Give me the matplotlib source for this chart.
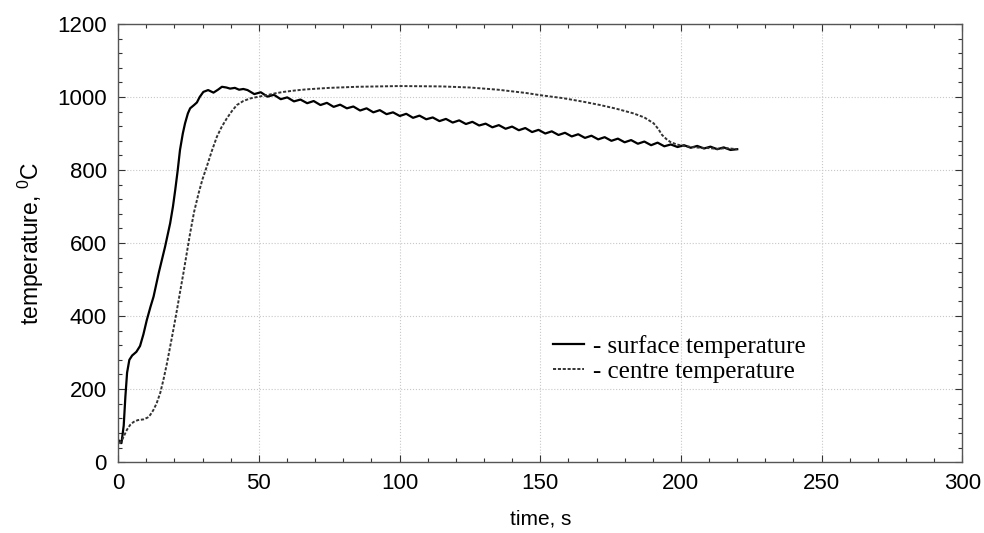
import numpy as np
import matplotlib.pyplot as plt
from matplotlib.ticker import MultipleLocator

plt.rcParams['mathtext.fontset'] = 'custom'
plt.rcParams['mathtext.rm'] = 'Liberation Sans'
plt.rcParams['mathtext.it'] = 'Liberation Sans'

# surface temperature (solid)
surf_t = [0.5, 1.2, 2.0, 2.6, 3.2, 4.0, 5.0, 6.5, 7.8, 9.0, 10.2, 11.5, 12.6, 14.5,
          16.7, 18.5, 19.5, 20.3, 21.2, 22.0, 23.0, 23.8, 24.8, 25.6, 27.0, 28.0,
          29.0, 30.3, 32.0, 33.9, 35.5, 36.9, 38.5, 39.8, 41.5, 43.0, 44.5,
          46.0, 48.4, 50.7, 53.1, 55.4, 57.8, 60.1, 62.5, 64.8, 67.2, 69.5, 71.9,
          74.2, 76.6, 78.9, 81.3, 83.6, 86.0, 88.3, 90.7, 93.0, 95.4, 97.7, 100.1,
          102.4, 104.8, 107.1, 109.5, 111.8, 114.2, 116.5, 118.9, 121.2, 123.6,
          125.9, 128.3, 130.6, 133.0, 135.3, 137.7, 140.0, 142.4, 144.7, 147.1,
          149.4, 151.8, 154.1, 156.5, 158.8, 161.2, 163.5, 165.9, 168.2, 170.6,
          172.9, 175.3, 177.6, 180.0, 182.3, 184.7, 187.0, 189.4, 191.7, 194.1,
          196.4, 198.8, 201.1, 203.5, 205.8, 208.2, 210.5, 212.9, 215.2, 217.6, 220.0]
surf_T = [58, 52, 100, 180, 245, 280, 292, 302, 318, 350, 389, 425, 453, 520,
          590, 654, 700, 745, 800, 855, 900, 928, 955, 969, 978, 985,
          1000, 1014, 1019, 1012, 1020, 1028, 1026, 1023, 1025, 1020, 1022,
          1019, 1008, 1013, 1001, 1006, 994, 999, 988, 993, 983, 989, 978,
          984, 973, 979, 969, 974, 963, 969, 958, 964, 953, 958, 948,
          954, 943, 949, 939, 944, 934, 940, 930, 936, 926,
          932, 922, 927, 917, 923, 913, 919, 909, 915, 904,
          910, 900, 906, 896, 902, 892, 898, 888, 894, 884,
          890, 880, 886, 876, 882, 872, 878, 868, 875, 865,
          870, 863, 868, 861, 866, 859, 864, 857, 862, 855, 857]

# centre temperature (dotted)
cent_t = [0.5, 1.5, 3.1, 4.3, 5.5, 7.0, 9.0, 10.5, 11.4, 12.5, 13.7, 15.0, 16.1,
          17.3, 18.5, 19.7, 20.9, 22.0, 23.2, 24.4, 25.6, 27.0, 28.6, 30.0, 31.5,
          33.3, 35.1, 36.8, 38.6, 40.4, 42.2, 44.5, 46.9, 50.0, 52.9, 55.8, 58.8,
          63.0, 67.0, 75.0, 85.0, 100.0, 115.0, 125.0, 135.0, 145.0, 150.0, 158.0,
          165.4, 171.3, 177.0, 183.2, 187.0, 190.3, 192.0, 193.3, 194.8, 196.2,
          198.5, 200.9, 203.8, 206.8, 210.0, 213.0, 216.0, 220.0]
cent_T = [50, 62, 88, 102, 110, 115, 117, 122, 129, 142, 161, 190, 225,
          268, 316, 365, 416, 465, 517, 572, 627, 685, 736, 775, 809,
          852, 891, 918, 941, 961, 978, 989, 996, 1001, 1005, 1010, 1014,
          1018, 1021, 1025, 1028, 1030, 1029, 1026, 1020, 1011, 1005, 997,
          987, 978, 968, 955, 944, 928, 912, 896, 885, 877,
          870, 866, 863, 861, 860, 858, 860, 857]

fig = plt.figure(figsize=(9.84, 5.33), dpi=100)
ax = fig.add_axes([0.120, 0.133, 0.858, 0.822])

ax.plot(surf_t, surf_T, color='black', lw=1.6, label='- surface temperature')
ax.plot(cent_t, cent_T, color='#333333', lw=1.4, linestyle=(0, (1.6, 0.9)),
        label='- centre temperature')

ax.set_xlim(0, 300)
ax.set_ylim(0, 1200)
ax.xaxis.set_major_locator(MultipleLocator(50))
ax.xaxis.set_minor_locator(MultipleLocator(10))
ax.yaxis.set_major_locator(MultipleLocator(200))
ax.yaxis.set_minor_locator(MultipleLocator(40))
ax.tick_params(which='both', direction='in', top=True, right=True, width=0.8,
               color='#333333')
ax.tick_params(which='major', length=5, labelsize=16, pad=8)
ax.tick_params(which='minor', length=3)
for lab in ax.get_xticklabels() + ax.get_yticklabels():
    lab.set_family('Liberation Sans')
for s in ax.spines.values():
    s.set_color('#555555')
    s.set_linewidth(1.0)

ax.grid(True, which='major', color='#c8c8c8', linestyle=':', lw=0.8)

ax.set_xlabel('time, s', fontsize=15, family='Liberation Sans', labelpad=11)
ax.set_ylabel('temperature, $^{0}$C', fontsize=16.5, family='Liberation Sans',
              labelpad=8)

ax.legend(loc='center left', bbox_to_anchor=(0.5005, 0.235), frameon=False,
          prop={'family': 'Liberation Serif', 'size': 18},
          handlelength=1.25, handletextpad=0.35, labelspacing=0.1, borderpad=0)

fig.savefig('out.png', dpi=100)
